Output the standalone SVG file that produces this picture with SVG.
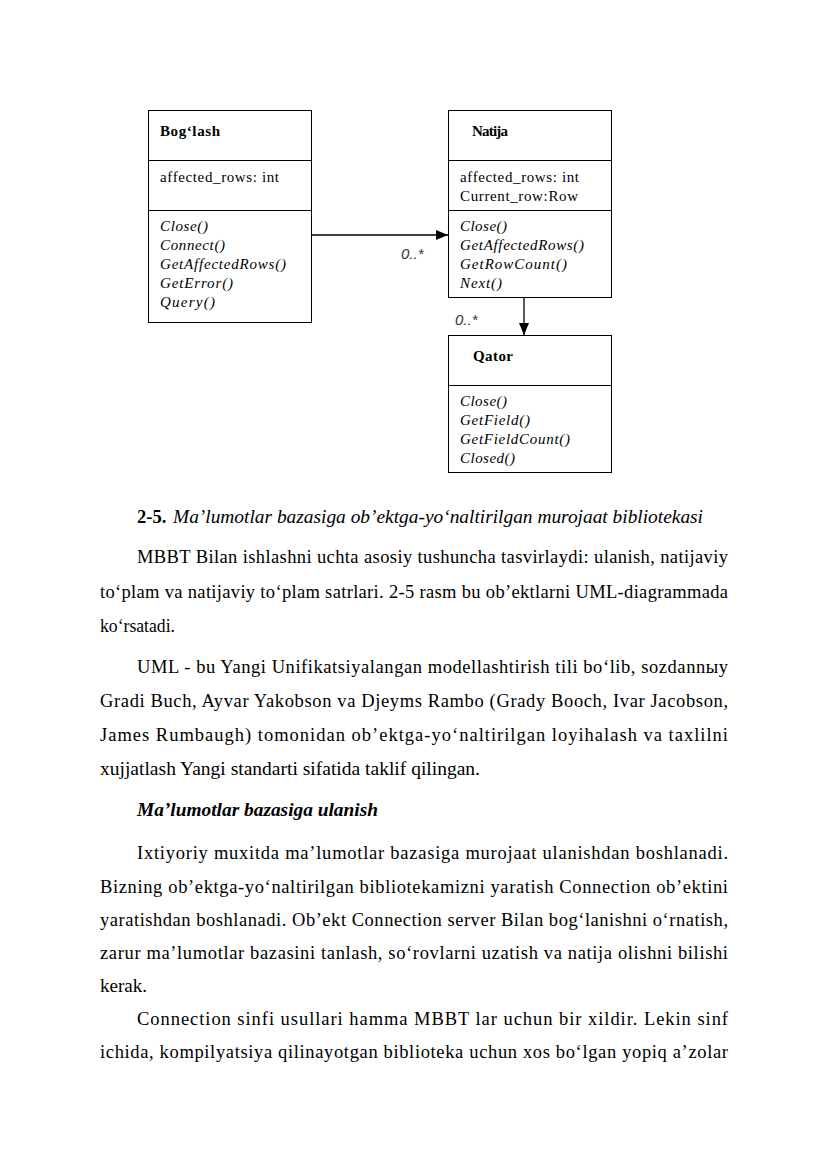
<svg xmlns="http://www.w3.org/2000/svg" width="827" height="1169" viewBox="0 0 827 1169">
<style>
.box{fill:#fff;stroke:#000;stroke-width:1}
.div{stroke:#000;stroke-width:1}
.t{font-family:"Liberation Serif","Times New Roman",serif;font-size:15px;fill:#000}
.b{font-weight:bold}
.i{font-style:italic}
.m{font-family:"Liberation Sans",Arial,sans-serif;font-size:15px;font-style:italic;fill:#333}
.p{font-family:"Liberation Serif","Times New Roman",serif;font-size:18.5px;fill:#000}
.con{stroke:#000;stroke-width:1.3;fill:none}
</style>
<defs>
<marker id="ah" markerWidth="12" markerHeight="10" refX="12" refY="5" orient="auto" markerUnits="userSpaceOnUse">
<path d="M0,0 L12,5 L0,10 z" fill="#000"/>
</marker>
</defs>
<rect width="827" height="1169" fill="#fff"/>

<g id="connectors">
<line class="con" x1="311" y1="235" x2="448" y2="235" marker-end="url(#ah)"/>
<text class="m" x="401" y="259">0..*</text>
<line class="con" x1="524" y1="298" x2="524" y2="335" marker-end="url(#ah)"/>
<text class="m" x="455" y="325">0..*</text>
</g>

<g id="boglash">
<rect class="box" x="148.5" y="110.5" width="163" height="212"/>
<line class="div" x1="148.5" y1="160.5" x2="311.5" y2="160.5"/>
<line class="div" x1="148.5" y1="210.5" x2="311.5" y2="210.5"/>
<text class="t b" x="160" y="136" textLength="60">Bog‘lash</text>
<text class="t" x="160" y="182" textLength="119">affected_rows: int</text>
<text class="t i" x="160" y="231" textLength="48">Close()</text>
<text class="t i" x="160" y="250" textLength="65">Connect()</text>
<text class="t i" x="160" y="269" textLength="126">GetAffectedRows()</text>
<text class="t i" x="160" y="288" textLength="73">GetError()</text>
<text class="t i" x="160" y="307" textLength="55">Query()</text>
</g>

<g id="natija">
<rect class="box" x="448.5" y="110.5" width="163" height="187"/>
<line class="div" x1="448.5" y1="160.5" x2="611.5" y2="160.5"/>
<line class="div" x1="448.5" y1="210.5" x2="611.5" y2="210.5"/>
<text class="t b" x="472" y="136" textLength="36">Natija</text>
<text class="t" x="460" y="182" textLength="119">affected_rows: int</text>
<text class="t" x="460" y="201" textLength="118">Current_row:Row</text>
<text class="t i" x="460" y="231" textLength="47">Close()</text>
<text class="t i" x="460" y="250" textLength="124">GetAffectedRows()</text>
<text class="t i" x="460" y="269" textLength="107">GetRowCount()</text>
<text class="t i" x="460" y="288" textLength="42">Next()</text>
</g>

<g id="qator">
<rect class="box" x="448.5" y="335.5" width="163" height="137"/>
<line class="div" x1="448.5" y1="385.5" x2="611.5" y2="385.5"/>
<text class="t b" x="473" y="361" textLength="40">Qator</text>
<text class="t i" x="460" y="406" textLength="47">Close()</text>
<text class="t i" x="460" y="425" textLength="70">GetField()</text>
<text class="t i" x="460" y="444" textLength="110">GetFieldCount()</text>
<text class="t i" x="460" y="463" textLength="55">Closed()</text>
</g>

<g id="text">
<text class="p" x="137" y="523" font-weight="bold">2-5.</text>
<text class="p" x="173" y="523" font-style="italic" fill="#333" textLength="530" lengthAdjust="spacingAndGlyphs">Ma’lumotlar bazasiga ob’ektga-yo‘naltirilgan murojaat bibliotekasi</text>
<text class="p" x="137" y="563" textLength="591" lengthAdjust="spacing">MBBT Bilan ishlashni uchta asosiy tushuncha tasvirlaydi: ulanish, natijaviy</text>
<text class="p" x="100" y="598" textLength="628" lengthAdjust="spacing">to‘plam va natijaviy to‘plam satrlari. 2-5 rasm bu ob’ektlarni UML-diagrammada</text>
<text class="p" x="100" y="632" textLength="75" lengthAdjust="spacingAndGlyphs">ko‘rsatadi.</text>
<text class="p" x="137" y="673" textLength="591" lengthAdjust="spacing">UML - bu Yangi  Unifikatsiyalangan modellashtirish tili bo‘lib, sozdannыy</text>
<text class="p" x="100" y="707" textLength="628" lengthAdjust="spacing">Gradi Buch, Ayvar Yakobson va Djeyms Rambo (Grady Booch, Ivar Jacobson,</text>
<text class="p" x="100" y="741" textLength="628" lengthAdjust="spacing">James Rumbaugh) tomonidan ob’ektga-yo‘naltirilgan loyihalash va taxlilni</text>
<text class="p" x="100" y="775" textLength="380" lengthAdjust="spacingAndGlyphs">xujjatlash Yangi standarti sifatida taklif qilingan.</text>
<text class="p" x="137" y="816" font-weight="bold" font-style="italic" textLength="241" lengthAdjust="spacingAndGlyphs">Ma’lumotlar bazasiga ulanish</text>
<text class="p" x="137" y="859" textLength="591" lengthAdjust="spacing">Ixtiyoriy muxitda ma’lumotlar bazasiga murojaat ulanishdan boshlanadi.</text>
<text class="p" x="100" y="893" textLength="628" lengthAdjust="spacing">Bizning ob’ektga-yo‘naltirilgan bibliotekamizni yaratish  Connection ob’ektini</text>
<text class="p" x="100" y="926" textLength="628" lengthAdjust="spacing">yaratishdan boshlanadi. Ob’ekt Connection server Bilan bog‘lanishni o‘rnatish,</text>
<text class="p" x="100" y="959" textLength="628" lengthAdjust="spacing">zarur ma’lumotlar bazasini tanlash, so‘rovlarni uzatish va natija olishni bilishi</text>
<text class="p" x="100" y="992" textLength="47" lengthAdjust="spacingAndGlyphs">kerak.</text>
<text class="p" x="137" y="1025" textLength="591" lengthAdjust="spacing">Connection sinfi usullari hamma MBBT lar uchun bir xildir. Lekin sinf</text>
<text class="p" x="100" y="1058" textLength="628" lengthAdjust="spacing">ichida, kompilyatsiya qilinayotgan biblioteka uchun xos bo‘lgan yopiq a’zolar</text>
</g>
</svg>
